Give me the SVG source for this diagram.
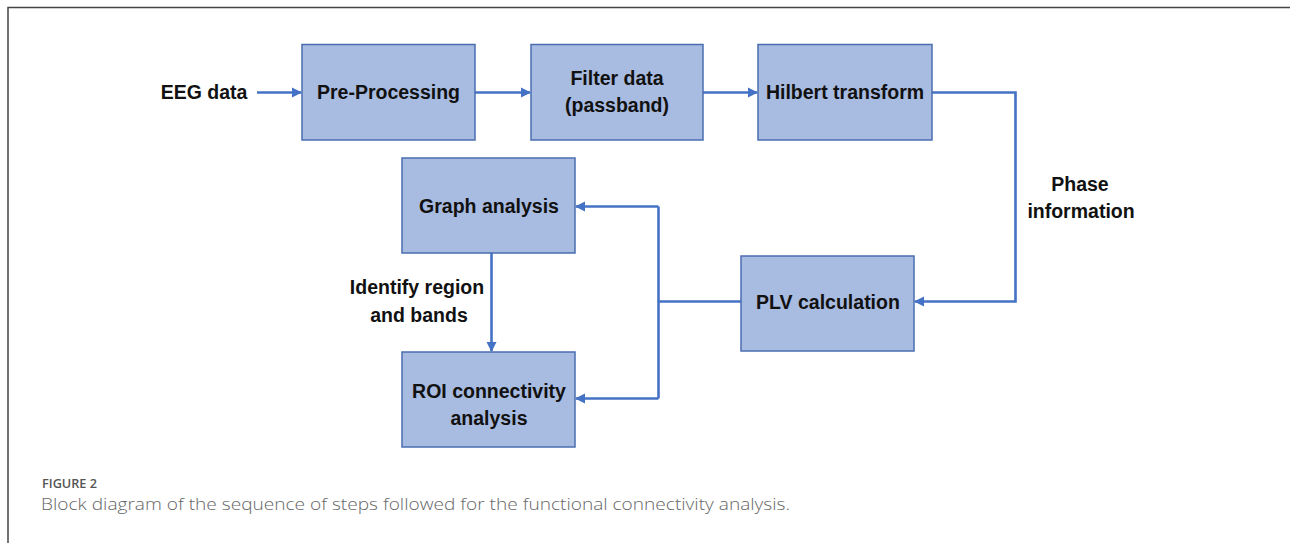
<svg xmlns="http://www.w3.org/2000/svg" width="1290" height="543" viewBox="0 0 1290 543">
  <style>
    .box { fill: #A8BBE0; stroke: #4A6DB0; stroke-width: 1.5; }
    .lbl { font-family: "Liberation Sans", Arial, sans-serif; font-weight: bold; font-size: 19.5px; fill: #111; }
    .mid { text-anchor: middle; }
    .wire { fill: none; stroke: #4472C4; stroke-width: 2.6; }
    .frame { fill: none; stroke: #444; stroke-width: 1.5; }
    .cap { font-family: "Open Sans", "Liberation Sans", sans-serif; }
  </style>
  <defs>
    <marker id="arrow" viewBox="0 0 10 10" refX="9" refY="5" markerWidth="4" markerHeight="4" orient="auto" markerUnits="strokeWidth">
      <path d="M0,0 L10,5 L0,10 z" fill="#4472C4"/>
    </marker>
  </defs>

  <rect x="0" y="0" width="1290" height="543" fill="#ffffff"/>
  <path class="frame" d="M8,543 V7.5 H1290"/>

  <g id="connectors">
    <path class="wire" d="M257,92.5 H301" marker-end="url(#arrow)"/>
    <path class="wire" d="M475,92.5 H530" marker-end="url(#arrow)"/>
    <path class="wire" d="M703,92.5 H757" marker-end="url(#arrow)"/>
    <path class="wire" d="M932,92.5 H1015.5 V301.5 H915" marker-end="url(#arrow)"/>
    <path class="wire" d="M741,301.5 H658.5"/>
    <path class="wire" d="M658.5,206.5 V398.5"/>
    <path class="wire" d="M658.5,206.5 H576" marker-end="url(#arrow)"/>
    <path class="wire" d="M658.5,398.5 H576" marker-end="url(#arrow)"/>
    <path class="wire" d="M491.5,253 V351" marker-end="url(#arrow)"/>
  </g>

  <g id="eeg-data">
    <text class="lbl mid" x="204" y="99">EEG data</text>
  </g>
  <g id="pre-processing">
    <rect class="box" x="302" y="44.5" width="173" height="95.5"/>
    <text class="lbl mid" x="388.5" y="99">Pre-Processing</text>
  </g>
  <g id="filter-data">
    <rect class="box" x="531" y="44.5" width="172" height="95.5"/>
    <text class="lbl mid" x="617" y="85">Filter data</text>
    <text class="lbl mid" x="617" y="112">(passband)</text>
  </g>
  <g id="hilbert-transform">
    <rect class="box" x="758" y="44.5" width="174" height="95.5"/>
    <text class="lbl mid" x="845" y="99">Hilbert transform</text>
  </g>
  <g id="phase-information">
    <text class="lbl mid" x="1080" y="191">Phase</text>
    <text class="lbl mid" x="1081" y="218">information</text>
  </g>
  <g id="plv-calculation">
    <rect class="box" x="741" y="256" width="173" height="95"/>
    <text class="lbl mid" x="828" y="309">PLV calculation</text>
  </g>
  <g id="graph-analysis">
    <rect class="box" x="402" y="158" width="173" height="95"/>
    <text class="lbl mid" x="489" y="213">Graph analysis</text>
  </g>
  <g id="identify-label">
    <text class="lbl mid" x="417" y="294">Identify region</text>
    <text class="lbl mid" x="419" y="322">and bands</text>
  </g>
  <g id="roi-connectivity">
    <rect class="box" x="402" y="352" width="173" height="95"/>
    <text class="lbl mid" x="489" y="398">ROI connectivity</text>
    <text class="lbl mid" x="489" y="425">analysis</text>
  </g>

  <g id="caption">
    <text class="cap" x="42" y="488" font-size="13px" font-weight="600" fill="#555" textLength="55" lengthAdjust="spacingAndGlyphs">FIGURE 2</text>
    <text class="cap" x="41" y="510" font-weight="300" font-size="17px" fill="#666" textLength="749" lengthAdjust="spacingAndGlyphs">Block diagram of the sequence of steps followed for the functional connectivity analysis.</text>
  </g>
</svg>
